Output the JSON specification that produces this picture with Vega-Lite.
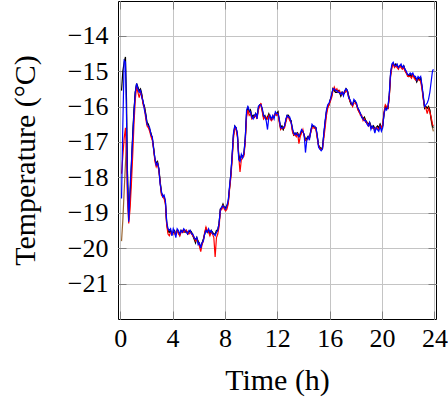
{
"$schema": "https://vega.github.io/schema/vega-lite/v6.json",
"width": 318, "height": 318,
"autosize": {"type": "none"},
"padding": {"left": 118, "top": 1, "right": 12, "bottom": 83},
"config": {
 "view": {"stroke": "#000", "strokeWidth": 1},
 "axis": {"labelFont": "Liberation Serif", "labelFontSize": 26, "labelColor": "#000", "titleFont": "Liberation Serif", "titleFontSize": 30, "titleFontWeight": "normal", "titleColor": "#000", "domain": false, "gridColor": "#c4c4c4", "gridWidth": 1, "tickSize": -8, "tickColor": "#808080", "tickWidth": 1},
 "axisX": {"labelPadding": 14, "titlePadding": 14, "labelFlush": false},
 "axisY": {"labelPadding": 18, "titlePadding": 27}
},
"data": {"values": [
{"t":0.10,"k":-15.55,"r":-17.9,"b":-18.6,"n":-19.8},
{"t":0.20,"k":-15.0,"r":-17.4,"b":-16.5,"n":-19.2},
{"t":0.30,"k":-14.75,"r":-16.9,"b":-14.7,"n":-18.4},
{"t":0.40,"k":-14.6,"r":-16.6,"b":-14.75,"n":-17.6},
{"t":0.48,"k":-15.8,"r":-17.4,"b":-16.3,"n":-17.0},
{"t":0.55,"k":-17.8,"r":-18.6,"b":-18.2,"n":-17.9},
{"t":0.65,"k":-19.2,"r":-19.3,"b":-19.25,"n":-19.15},
{"t":0.75,"k":-18.6,"r":-18.9,"b":-18.3,"n":-18.6},
{"t":0.85,"k":-17.7,"r":-18.2,"b":-17.6,"n":-17.8},
{"t":0.95,"k":-16.8,"r":-17.4,"b":-16.9,"n":-16.9},
{"t":1.05,"k":-16.1,"r":-16.5,"b":-16.2,"n":-16.15},
{"t":1.15,"k":-15.6,"r":-15.8,"b":-15.6,"n":-15.6},
{"t":1.25,"k":-15.35,"r":-15.45,"b":-15.35,"n":-15.38},
{"t":1.35,"k":-15.45,"r":-15.6,"b":-15.5,"n":-15.5},
{"t":1.45,"k":-15.55,"r":-15.75,"b":-15.6,"n":-15.6},
{"t":1.55,"k":-15.5,"r":-15.6,"b":-15.55,"n":-15.55},
{"t":1.65,"k":-15.65,"r":-15.7,"b":-15.75,"n":-15.7},
{"t":1.75,"k":-15.9,"r":-15.95,"b":-15.85,"n":-15.9},
{"t":1.85,"k":-16.0,"r":-16.05,"b":-16.1,"n":-16.0},
{"t":1.95,"k":-16.2,"r":-16.35,"b":-16.25,"n":-16.25},
{"t":2.05,"k":-16.45,"r":-16.55,"b":-16.5,"n":-16.5},
{"t":2.15,"k":-16.5,"r":-16.6,"b":-16.55,"n":-16.5},
{"t":2.25,"k":-16.65,"r":-16.7,"b":-16.6,"n":-16.65},
{"t":2.35,"k":-16.75,"r":-16.85,"b":-16.8,"n":-16.8},
{"t":2.45,"k":-16.9,"r":-16.95,"b":-16.85,"n":-16.9},
{"t":2.55,"k":-17.15,"r":-17.2,"b":-17.2,"n":-17.2},
{"t":2.65,"k":-17.5,"r":-17.55,"b":-17.45,"n":-17.5},
{"t":2.75,"k":-17.6,"r":-17.7,"b":-17.65,"n":-17.6},
{"t":2.85,"k":-17.55,"r":-17.6,"b":-17.6,"n":-17.6},
{"t":2.95,"k":-17.75,"r":-17.8,"b":-17.75,"n":-17.8},
{"t":3.05,"k":-18.1,"r":-18.15,"b":-18.2,"n":-18.15},
{"t":3.15,"k":-18.45,"r":-18.5,"b":-18.4,"n":-18.45},
{"t":3.25,"k":-18.5,"r":-18.55,"b":-18.55,"n":-18.5},
{"t":3.35,"k":-18.55,"r":-18.6,"b":-18.5,"n":-18.55},
{"t":3.45,"k":-18.7,"r":-18.75,"b":-18.65,"n":-18.7},
{"t":3.55,"k":-19.3,"r":-19.35,"b":-19.25,"n":-19.3},
{"t":3.65,"k":-19.5,"r":-19.6,"b":-19.45,"n":-19.55},
{"t":3.75,"k":-19.55,"r":-19.65,"b":-19.5,"n":-19.55},
{"t":3.85,"k":-19.5,"r":-19.55,"b":-19.45,"n":-19.5},
{"t":3.95,"k":-19.6,"r":-19.55,"b":-19.65,"n":-19.6},
{"t":4.05,"k":-19.55,"r":-19.6,"b":-19.45,"n":-19.55},
{"t":4.15,"k":-19.5,"r":-19.6,"b":-19.55,"n":-19.55},
{"t":4.25,"k":-19.6,"r":-19.55,"b":-19.7,"n":-19.6},
{"t":4.35,"k":-19.5,"r":-19.5,"b":-19.45,"n":-19.5},
{"t":4.45,"k":-19.55,"r":-19.6,"b":-19.5,"n":-19.55},
{"t":4.55,"k":-19.6,"r":-19.65,"b":-19.6,"n":-19.65},
{"t":4.65,"k":-19.5,"r":-19.55,"b":-19.5,"n":-19.5},
{"t":4.75,"k":-19.55,"r":-19.5,"b":-19.55,"n":-19.55},
{"t":4.85,"k":-19.5,"r":-19.55,"b":-19.45,"n":-19.5},
{"t":4.95,"k":-19.55,"r":-19.5,"b":-19.5,"n":-19.55},
{"t":5.05,"k":-19.5,"r":-19.5,"b":-19.55,"n":-19.5},
{"t":5.15,"k":-19.6,"r":-19.55,"b":-19.6,"n":-19.6},
{"t":5.25,"k":-19.55,"r":-19.6,"b":-19.5,"n":-19.55},
{"t":5.35,"k":-19.5,"r":-19.55,"b":-19.5,"n":-19.5},
{"t":5.45,"k":-19.55,"r":-19.6,"b":-19.6,"n":-19.55},
{"t":5.55,"k":-19.65,"r":-19.65,"b":-19.6,"n":-19.65},
{"t":5.65,"k":-19.75,"r":-19.7,"b":-19.7,"n":-19.7},
{"t":5.75,"k":-19.85,"r":-19.8,"b":-19.75,"n":-19.8},
{"t":5.85,"k":-19.7,"r":-19.75,"b":-19.7,"n":-19.75},
{"t":5.95,"k":-19.8,"r":-19.85,"b":-19.9,"n":-19.8},
{"t":6.05,"k":-19.9,"r":-19.95,"b":-19.85,"n":-19.9},
{"t":6.15,"k":-19.95,"r":-20.1,"b":-20.0,"n":-19.95},
{"t":6.25,"k":-19.85,"r":-19.9,"b":-19.85,"n":-19.9},
{"t":6.35,"k":-19.75,"r":-19.8,"b":-19.8,"n":-19.75},
{"t":6.45,"k":-19.6,"r":-19.55,"b":-19.6,"n":-19.6},
{"t":6.55,"k":-19.45,"r":-19.4,"b":-19.5,"n":-19.45},
{"t":6.65,"k":-19.55,"r":-19.5,"b":-19.55,"n":-19.55},
{"t":6.75,"k":-19.5,"r":-19.55,"b":-19.45,"n":-19.5},
{"t":6.85,"k":-19.6,"r":-19.65,"b":-19.55,"n":-19.6},
{"t":6.95,"k":-19.5,"r":-19.55,"b":-19.5,"n":-19.5},
{"t":7.05,"k":-19.55,"r":-19.6,"b":-19.6,"n":-19.55},
{"t":7.15,"k":-19.6,"r":-19.7,"b":-19.6,"n":-19.6},
{"t":7.25,"k":-19.6,"r":-20.25,"b":-19.65,"n":-19.6},
{"t":7.35,"k":-19.5,"r":-19.7,"b":-19.55,"n":-19.55},
{"t":7.45,"k":-19.5,"r":-19.6,"b":-19.5,"n":-19.5},
{"t":7.55,"k":-19.3,"r":-19.4,"b":-19.3,"n":-19.3},
{"t":7.65,"k":-18.9,"r":-18.95,"b":-18.9,"n":-18.9},
{"t":7.75,"k":-18.85,"r":-18.9,"b":-18.85,"n":-18.9},
{"t":7.85,"k":-18.75,"r":-18.8,"b":-18.8,"n":-18.8},
{"t":7.95,"k":-18.85,"r":-18.9,"b":-18.85,"n":-18.85},
{"t":8.05,"k":-18.85,"r":-18.95,"b":-18.9,"n":-18.9},
{"t":8.15,"k":-18.8,"r":-18.9,"b":-18.8,"n":-18.85},
{"t":8.25,"k":-18.7,"r":-18.75,"b":-18.65,"n":-18.7},
{"t":8.35,"k":-18.3,"r":-18.35,"b":-18.25,"n":-18.3},
{"t":8.45,"k":-17.9,"r":-18.0,"b":-17.9,"n":-17.95},
{"t":8.55,"k":-17.4,"r":-17.5,"b":-17.35,"n":-17.4},
{"t":8.65,"k":-16.8,"r":-16.9,"b":-16.75,"n":-16.8},
{"t":8.75,"k":-16.55,"r":-16.6,"b":-16.55,"n":-16.6},
{"t":8.85,"k":-16.6,"r":-16.65,"b":-16.6,"n":-16.6},
{"t":8.95,"k":-16.8,"r":-16.85,"b":-16.75,"n":-16.8},
{"t":9.05,"k":-17.35,"r":-17.4,"b":-17.5,"n":-17.4},
{"t":9.15,"k":-17.5,"r":-17.85,"b":-17.55,"n":-17.5},
{"t":9.25,"k":-17.4,"r":-17.5,"b":-17.35,"n":-17.4},
{"t":9.35,"k":-17.4,"r":-17.45,"b":-17.45,"n":-17.4},
{"t":9.45,"k":-17.35,"r":-17.4,"b":-17.3,"n":-17.35},
{"t":9.55,"k":-16.9,"r":-17.0,"b":-16.9,"n":-16.95},
{"t":9.65,"k":-16.2,"r":-16.3,"b":-16.1,"n":-16.2},
{"t":9.75,"k":-16.0,"r":-16.1,"b":-16.0,"n":-16.05},
{"t":9.85,"k":-16.15,"r":-16.25,"b":-16.1,"n":-16.15},
{"t":9.95,"k":-16.1,"r":-16.2,"b":-16.15,"n":-16.1},
{"t":10.05,"k":-16.3,"r":-16.35,"b":-16.3,"n":-16.3},
{"t":10.15,"k":-16.25,"r":-16.3,"b":-16.35,"n":-16.25},
{"t":10.25,"k":-16.3,"r":-16.3,"b":-16.25,"n":-16.3},
{"t":10.35,"k":-16.2,"r":-16.25,"b":-16.2,"n":-16.2},
{"t":10.45,"k":-16.3,"r":-16.35,"b":-16.35,"n":-16.3},
{"t":10.55,"k":-16.05,"r":-16.1,"b":-16.0,"n":-16.05},
{"t":10.65,"k":-15.95,"r":-16.0,"b":-15.95,"n":-15.95},
{"t":10.75,"k":-15.95,"r":-15.9,"b":-15.95,"n":-15.95},
{"t":10.85,"k":-16.1,"r":-16.15,"b":-16.05,"n":-16.1},
{"t":10.95,"k":-16.3,"r":-16.35,"b":-16.25,"n":-16.3},
{"t":11.05,"k":-16.25,"r":-16.3,"b":-16.3,"n":-16.3},
{"t":11.15,"k":-16.35,"r":-16.3,"b":-16.4,"n":-16.35},
{"t":11.25,"k":-16.3,"r":-16.35,"b":-16.65,"n":-16.3},
{"t":11.35,"k":-16.2,"r":-16.25,"b":-16.3,"n":-16.25},
{"t":11.45,"k":-16.3,"r":-16.35,"b":-16.25,"n":-16.3},
{"t":11.55,"k":-16.35,"r":-16.4,"b":-16.35,"n":-16.35},
{"t":11.65,"k":-16.3,"r":-16.35,"b":-16.25,"n":-16.3},
{"t":11.75,"k":-16.3,"r":-16.25,"b":-16.35,"n":-16.3},
{"t":11.85,"k":-16.2,"r":-16.2,"b":-16.15,"n":-16.2},
{"t":11.95,"k":-16.2,"r":-16.25,"b":-16.2,"n":-16.2},
{"t":12.05,"k":-16.15,"r":-16.2,"b":-16.2,"n":-16.15},
{"t":12.15,"k":-16.4,"r":-16.45,"b":-16.35,"n":-16.4},
{"t":12.25,"k":-16.6,"r":-16.65,"b":-16.6,"n":-16.6},
{"t":12.35,"k":-16.55,"r":-16.6,"b":-16.6,"n":-16.55},
{"t":12.45,"k":-16.65,"r":-16.6,"b":-16.6,"n":-16.65},
{"t":12.55,"k":-16.55,"r":-16.6,"b":-16.55,"n":-16.55},
{"t":12.65,"k":-16.4,"r":-16.45,"b":-16.35,"n":-16.4},
{"t":12.75,"k":-16.25,"r":-16.3,"b":-16.25,"n":-16.25},
{"t":12.85,"k":-16.25,"r":-16.3,"b":-16.3,"n":-16.25},
{"t":12.95,"k":-16.35,"r":-16.4,"b":-16.3,"n":-16.35},
{"t":13.05,"k":-16.4,"r":-16.45,"b":-16.45,"n":-16.4},
{"t":13.15,"k":-16.65,"r":-16.7,"b":-16.6,"n":-16.65},
{"t":13.25,"k":-16.8,"r":-16.8,"b":-16.75,"n":-16.8},
{"t":13.35,"k":-16.75,"r":-16.8,"b":-16.8,"n":-16.75},
{"t":13.45,"k":-16.8,"r":-16.85,"b":-16.75,"n":-16.8},
{"t":13.55,"k":-16.75,"r":-16.75,"b":-16.8,"n":-16.75},
{"t":13.65,"k":-16.85,"r":-17.05,"b":-16.85,"n":-16.85},
{"t":13.75,"k":-16.8,"r":-16.85,"b":-16.75,"n":-16.8},
{"t":13.85,"k":-16.7,"r":-16.75,"b":-16.65,"n":-16.7},
{"t":13.95,"k":-16.7,"r":-16.65,"b":-16.7,"n":-16.7},
{"t":14.05,"k":-16.8,"r":-16.85,"b":-16.8,"n":-16.8},
{"t":14.15,"k":-16.95,"r":-16.95,"b":-17.3,"n":-16.95},
{"t":14.25,"k":-16.9,"r":-16.95,"b":-16.95,"n":-16.9},
{"t":14.35,"k":-16.85,"r":-16.9,"b":-16.85,"n":-16.85},
{"t":14.45,"k":-16.9,"r":-16.85,"b":-16.95,"n":-16.9},
{"t":14.55,"k":-16.7,"r":-16.75,"b":-16.7,"n":-16.7},
{"t":14.65,"k":-16.55,"r":-16.6,"b":-16.5,"n":-16.55},
{"t":14.75,"k":-16.55,"r":-16.6,"b":-16.55,"n":-16.55},
{"t":14.85,"k":-16.6,"r":-16.6,"b":-16.55,"n":-16.6},
{"t":14.95,"k":-16.6,"r":-16.65,"b":-16.6,"n":-16.6},
{"t":15.05,"k":-16.85,"r":-16.9,"b":-16.8,"n":-16.85},
{"t":15.15,"k":-17.1,"r":-17.1,"b":-17.15,"n":-17.1},
{"t":15.25,"k":-17.15,"r":-17.2,"b":-17.2,"n":-17.15},
{"t":15.35,"k":-17.2,"r":-17.2,"b":-17.25,"n":-17.2},
{"t":15.45,"k":-17.15,"r":-17.2,"b":-17.2,"n":-17.15},
{"t":15.55,"k":-16.8,"r":-16.9,"b":-16.75,"n":-16.8},
{"t":15.65,"k":-16.45,"r":-16.6,"b":-16.4,"n":-16.45},
{"t":15.75,"k":-16.15,"r":-16.25,"b":-16.1,"n":-16.15},
{"t":15.85,"k":-16.0,"r":-16.05,"b":-15.95,"n":-16.0},
{"t":15.95,"k":-15.95,"r":-15.95,"b":-15.9,"n":-15.95},
{"t":16.05,"k":-15.8,"r":-15.85,"b":-15.8,"n":-15.8},
{"t":16.15,"k":-15.7,"r":-15.75,"b":-15.65,"n":-15.7},
{"t":16.25,"k":-15.5,"r":-15.55,"b":-15.5,"n":-15.5},
{"t":16.35,"k":-15.55,"r":-15.45,"b":-15.5,"n":-15.55},
{"t":16.45,"k":-15.6,"r":-15.55,"b":-15.55,"n":-15.6},
{"t":16.55,"k":-15.6,"r":-15.5,"b":-15.55,"n":-15.6},
{"t":16.65,"k":-15.55,"r":-15.6,"b":-15.6,"n":-15.6},
{"t":16.75,"k":-15.6,"r":-15.55,"b":-15.6,"n":-15.6},
{"t":16.85,"k":-15.7,"r":-15.65,"b":-15.65,"n":-15.7},
{"t":16.95,"k":-15.6,"r":-15.65,"b":-15.6,"n":-15.6},
{"t":17.05,"k":-15.65,"r":-15.6,"b":-15.7,"n":-15.65},
{"t":17.15,"k":-15.6,"r":-15.6,"b":-15.55,"n":-15.6},
{"t":17.25,"k":-15.5,"r":-15.55,"b":-15.5,"n":-15.5},
{"t":17.35,"k":-15.55,"r":-15.6,"b":-15.55,"n":-15.55},
{"t":17.45,"k":-15.7,"r":-15.75,"b":-15.75,"n":-15.7},
{"t":17.55,"k":-15.85,"r":-15.85,"b":-15.8,"n":-15.85},
{"t":17.65,"k":-15.95,"r":-15.9,"b":-15.9,"n":-15.95},
{"t":17.75,"k":-15.95,"r":-16.0,"b":-15.95,"n":-15.95},
{"t":17.85,"k":-15.85,"r":-15.9,"b":-15.8,"n":-15.85},
{"t":17.95,"k":-15.85,"r":-15.9,"b":-15.85,"n":-15.85},
{"t":18.05,"k":-15.95,"r":-15.95,"b":-15.9,"n":-15.95},
{"t":18.15,"k":-16.05,"r":-16.1,"b":-16.05,"n":-16.05},
{"t":18.25,"k":-16.15,"r":-16.15,"b":-16.1,"n":-16.15},
{"t":18.35,"k":-16.2,"r":-16.25,"b":-16.2,"n":-16.2},
{"t":18.45,"k":-16.3,"r":-16.25,"b":-16.3,"n":-16.3},
{"t":18.55,"k":-16.35,"r":-16.4,"b":-16.35,"n":-16.35},
{"t":18.65,"k":-16.3,"r":-16.35,"b":-16.4,"n":-16.3},
{"t":18.75,"k":-16.4,"r":-16.45,"b":-16.4,"n":-16.4},
{"t":18.85,"k":-16.45,"r":-16.45,"b":-16.5,"n":-16.45},
{"t":18.95,"k":-16.5,"r":-16.55,"b":-16.55,"n":-16.5},
{"t":19.05,"k":-16.45,"r":-16.5,"b":-16.45,"n":-16.45},
{"t":19.15,"k":-16.55,"r":-16.6,"b":-16.65,"n":-16.55},
{"t":19.25,"k":-16.6,"r":-16.6,"b":-16.55,"n":-16.6},
{"t":19.35,"k":-16.55,"r":-16.6,"b":-16.6,"n":-16.55},
{"t":19.45,"k":-16.65,"r":-16.65,"b":-16.75,"n":-16.65},
{"t":19.55,"k":-16.6,"r":-16.6,"b":-16.6,"n":-16.6},
{"t":19.65,"k":-16.55,"r":-16.6,"b":-16.65,"n":-16.55},
{"t":19.75,"k":-16.6,"r":-16.65,"b":-16.7,"n":-16.6},
{"t":19.85,"k":-16.5,"r":-16.55,"b":-16.55,"n":-16.5},
{"t":19.95,"k":-16.6,"r":-16.6,"b":-16.7,"n":-16.6},
{"t":20.05,"k":-16.55,"r":-16.5,"b":-16.6,"n":-16.55},
{"t":20.15,"k":-16.2,"r":-16.15,"b":-16.2,"n":-16.2},
{"t":20.25,"k":-16.0,"r":-15.95,"b":-16.05,"n":-16.0},
{"t":20.35,"k":-16.05,"r":-16.0,"b":-16.1,"n":-16.05},
{"t":20.45,"k":-16.05,"r":-16.05,"b":-16.0,"n":-16.05},
{"t":20.55,"k":-15.7,"r":-15.75,"b":-15.65,"n":-15.7},
{"t":20.65,"k":-15.1,"r":-15.15,"b":-15.05,"n":-15.1},
{"t":20.75,"k":-14.85,"r":-14.9,"b":-14.8,"n":-14.85},
{"t":20.85,"k":-14.8,"r":-14.8,"b":-14.75,"n":-14.8},
{"t":20.95,"k":-14.85,"r":-14.9,"b":-14.85,"n":-14.85},
{"t":21.05,"k":-14.8,"r":-14.85,"b":-14.85,"n":-14.8},
{"t":21.15,"k":-14.85,"r":-14.9,"b":-14.8,"n":-14.85},
{"t":21.25,"k":-14.9,"r":-14.95,"b":-14.9,"n":-14.9},
{"t":21.35,"k":-14.85,"r":-14.85,"b":-14.85,"n":-14.85},
{"t":21.45,"k":-14.85,"r":-14.9,"b":-14.8,"n":-14.85},
{"t":21.55,"k":-14.9,"r":-14.95,"b":-14.9,"n":-14.9},
{"t":21.65,"k":-14.85,"r":-14.9,"b":-14.85,"n":-14.85},
{"t":21.75,"k":-14.95,"r":-15.0,"b":-14.95,"n":-14.95},
{"t":21.85,"k":-15.05,"r":-15.05,"b":-15.0,"n":-15.05},
{"t":21.95,"k":-15.1,"r":-15.15,"b":-15.1,"n":-15.1},
{"t":22.05,"k":-15.15,"r":-15.15,"b":-15.1,"n":-15.15},
{"t":22.15,"k":-15.1,"r":-15.15,"b":-15.05,"n":-15.1},
{"t":22.25,"k":-15.15,"r":-15.2,"b":-15.1,"n":-15.15},
{"t":22.35,"k":-15.1,"r":-15.1,"b":-15.05,"n":-15.1},
{"t":22.45,"k":-15.15,"r":-15.2,"b":-15.15,"n":-15.15},
{"t":22.55,"k":-15.2,"r":-15.25,"b":-15.15,"n":-15.2},
{"t":22.65,"k":-15.3,"r":-15.25,"b":-15.25,"n":-15.3},
{"t":22.75,"k":-15.2,"r":-15.25,"b":-15.15,"n":-15.2},
{"t":22.85,"k":-15.25,"r":-15.25,"b":-15.2,"n":-15.25},
{"t":22.95,"k":-15.2,"r":-15.3,"b":-15.15,"n":-15.2},
{"t":23.05,"k":-15.45,"r":-15.5,"b":-15.4,"n":-15.45},
{"t":23.15,"k":-15.75,"r":-15.8,"b":-15.7,"n":-15.75},
{"t":23.25,"k":-16.05,"r":-16.0,"b":-16.0,"n":-16.05},
{"t":23.35,"k":-16.0,"r":-16.05,"b":-15.95,"n":-16.0},
{"t":23.45,"k":-16.05,"r":-16.2,"b":-15.9,"n":-16.05},
{"t":23.55,"k":-16.0,"r":-16.05,"b":-15.8,"n":-16.0},
{"t":23.65,"k":-16.1,"r":-16.15,"b":-15.6,"n":-16.1},
{"t":23.75,"k":-16.35,"r":-16.3,"b":-15.3,"n":-16.4},
{"t":23.85,"k":-16.55,"r":-16.5,"b":-15.0,"n":-16.6},
{"t":23.92,"k":-16.6,"r":-16.55,"b":-14.95,"n":-16.7}
]},
"encoding": {
 "x": {"field": "t", "type": "quantitative", "scale": {"domain": [-0.17, 24.12], "nice": false, "zero": false}}
},
"layer": [
 {"mark": {"type": "line", "color": "#996633", "strokeWidth": 1.2},
  "encoding": {
   "x": {"field": "t", "type": "quantitative", "axis": {"values": [0,4,8,12,16,20,24], "title": "Time (h)"}},
   "y": {"field": "n", "type": "quantitative", "scale": {"domain": [-22, -13.02], "nice": false, "zero": false}, "axis": {"values": [-21,-20,-19,-18,-17,-16,-15,-14], "title": "Temperature (°C)"}}}},
 {"mark": {"type": "line", "color": "#000000", "strokeWidth": 1.2},
  "encoding": {
   "x": {"field": "t", "type": "quantitative", "axis": {"orient": "top", "values": [0,4,8,12,16,20,24], "labels": false, "grid": false, "title": null}},
   "y": {"field": "k", "type": "quantitative", "axis": {"orient": "right", "values": [-21,-20,-19,-18,-17,-16,-15,-14], "labels": false, "grid": false, "title": null}}}},
 {"mark": {"type": "line", "color": "#ff0000", "strokeWidth": 1.2},
  "encoding": {"x": {"field": "t", "type": "quantitative", "axis": null}, "y": {"field": "r", "type": "quantitative", "axis": null}}},
 {"mark": {"type": "line", "color": "#0000ff", "strokeWidth": 1.2},
  "encoding": {"x": {"field": "t", "type": "quantitative", "axis": null}, "y": {"field": "b", "type": "quantitative", "axis": null}}}
],
"resolve": {"axis": {"x": "independent", "y": "independent"}}
}
